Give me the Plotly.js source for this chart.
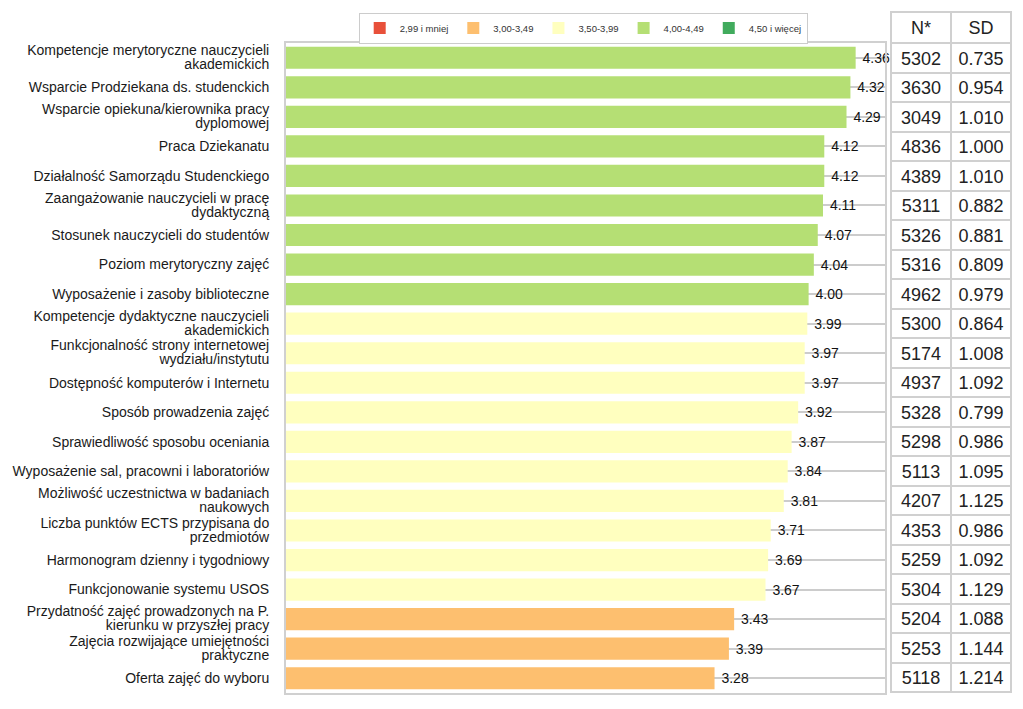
<!DOCTYPE html>
<html>
<head>
<meta charset="utf-8">
<script src="https://cdn.plot.ly/plotly-3.0.1.min.js"></script>
<style>html,body{margin:0;padding:0;background:#fff;}</style>
</head>
<body>
<div id="chart" style="width:1023px;height:709px;"></div>
<script>
const categories = [
  "Kompetencje merytoryczne nauczycieli<br>akademickich",
  "Wsparcie Prodziekana ds. studenckich",
  "Wsparcie opiekuna/kierownika pracy<br>dyplomowej",
  "Praca Dziekanatu",
  "Działalność Samorządu Studenckiego",
  "Zaangażowanie nauczycieli w pracę<br>dydaktyczną",
  "Stosunek nauczycieli do studentów",
  "Poziom merytoryczny zajęć",
  "Wyposażenie i zasoby biblioteczne",
  "Kompetencje dydaktyczne nauczycieli<br>akademickich",
  "Funkcjonalność strony internetowej<br>wydziału/instytutu",
  "Dostępność komputerów i Internetu",
  "Sposób prowadzenia zajęć",
  "Sprawiedliwość sposobu oceniania",
  "Wyposażenie sal, pracowni i laboratoriów",
  "Możliwość uczestnictwa w badaniach<br>naukowych",
  "Liczba punktów ECTS przypisana do<br>przedmiotów",
  "Harmonogram dzienny i tygodniowy",
  "Funkcjonowanie systemu USOS",
  "Przydatność zajęć prowadzonych na P.<br>kierunku w przyszłej pracy",
  "Zajęcia rozwijające umiejętności<br>praktyczne",
  "Oferta zajęć do wyboru"
];
const means = [4.36, 4.32, 4.29, 4.12, 4.12, 4.11, 4.07, 4.04, 4.00, 3.99, 3.97, 3.97, 3.92, 3.87, 3.84, 3.81, 3.71, 3.69, 3.67, 3.43, 3.39, 3.28];
const nValues = [5302, 3630, 3049, 4836, 4389, 5311, 5326, 5316, 4962, 5300, 5174, 4937, 5328, 5298, 5113, 4207, 4353, 5259, 5304, 5204, 5253, 5118];
const sdValues = [0.735, 0.954, 1.010, 1.000, 1.010, 0.882, 0.881, 0.809, 0.979, 0.864, 1.008, 1.092, 0.799, 0.986, 1.095, 1.125, 0.986, 1.092, 1.129, 1.088, 1.144, 1.214];
const tableHeader = ["N*", "SD"];
const bandLabels = ["2,99 i mniej", "3,00-3,49", "3,50-3,99", "4,00-4,49", "4,50 i więcej"];
const bandLower = [-Infinity, 3.0, 3.5, 4.0, 4.5];
const bandUpper = [3.0, 3.5, 4.0, 4.5, Infinity];
const bandColors = ["#e8503a", "#fdbf6f", "#ffffbf", "#b5df74", "#41ab5d"];

const FONT = 'Liberation Sans, Arial, sans-serif';

const traces = bandLabels.map((lab, b) => {
  const xs = [], ys = [];
  means.forEach((v, i) => {
    if (v >= bandLower[b] && v < bandUpper[b]) { xs.push(v); ys.push(categories[i]); }
  });
  return {
    type: 'bar', orientation: 'h', name: lab,
    x: xs.length ? xs : [null], y: ys.length ? ys : [categories[0]],
    marker: {color: bandColors[b], line: {width: 0}},
    texttemplate: '\u00a0%{x:.2f}', textposition: 'outside', cliponaxis: false,
    textfont: {family: FONT, size: 14, color: '#111'},
    hoverinfo: 'x+y', xaxis: 'x', yaxis: 'y'
  };
});

traces.push({
  type: 'table',
  domain: {x: [0.8322, 0.9986], y: [0, 1]},
  columnwidth: [1, 1],
  header: {
    values: tableHeader,
    height: 31,
    align: 'center',
    line: {color: '#d0d0d0', width: 2},
    fill: {color: '#ffffff'},
    font: {family: FONT, size: 18, color: '#222'}
  },
  cells: {
    values: [nValues, sdValues],
    format: ['d', '.3f'],
    height: 29.5,
    align: 'center',
    line: {color: '#d0d0d0', width: 2},
    fill: {color: '#ffffff'},
    font: {family: FONT, size: 18, color: '#222'}
  }
});

const layout = {
  width: 1023, height: 709,
  margin: {l: 286, r: 10, t: 12, b: 16, pad: 0},
  paper_bgcolor: '#ffffff', plot_bgcolor: '#ffffff',
  barmode: 'overlay', bargap: 0.25,
  font: {family: FONT, color: '#222'},
  xaxis: {
    domain: [0, 0.824], range: [0, 4.585], showgrid: false, zeroline: false,
    showticklabels: false, ticks: '',
    showline: true, mirror: true, linecolor: '#d0d0d0', linewidth: 2, fixedrange: true
  },
  yaxis: {
    domain: [0, 0.9545], type: 'category', categoryorder: 'array', categoryarray: categories,
    autorange: 'reversed', showgrid: true, gridcolor: '#cccccc', gridwidth: 2,
    showline: true, mirror: true, linecolor: '#d0d0d0', linewidth: 2,
    ticks: '', ticklabelstandoff: 12,
    tickfont: {family: FONT, size: 14, color: '#1a1a1a'},
    fixedrange: true
  },
  showlegend: true,
  legend: {
    orientation: 'h', x: 0.1, xanchor: 'left', y: 0.9765, yanchor: 'middle',
    bgcolor: '#ffffff', bordercolor: '#cccccc', borderwidth: 1,
    font: {family: FONT, size: 9.5, color: '#333'},
    traceorder: 'normal'
  }
};

function tightenTickLines() {
  document.querySelectorAll('#chart g.ytick text').forEach(t => {
    const lines = t.querySelectorAll('tspan.line');
    if (lines.length > 1) {
      const n = lines.length;
      lines.forEach((ln, i) => {
        if (i === 0) ln.setAttribute('dy', (0.1 * (n - 1)) + 'em');
        else ln.setAttribute('dy', '1.1em');
      });
    }
  });
}

Plotly.newPlot('chart', traces, layout, {displayModeBar: false, staticPlot: true}).then(tightenTickLines);
</script>
</body>
</html>
